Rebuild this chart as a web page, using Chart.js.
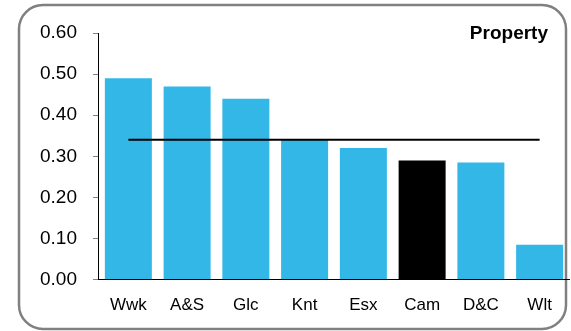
<!DOCTYPE html>
<html>
<head>
<meta charset="utf-8">
<script src="https://cdn.jsdelivr.net/npm/chart.js@4"></script>
<style>
  html, body { margin: 0; padding: 0; background: #fff; }
  #wrap { position: relative; width: 571px; height: 331px; }
</style>
</head>
<body>
<div id="wrap"><canvas id="chart" width="571" height="331"></canvas></div>
<script>
// ── Data ─────────────────────────────────────────────────────────────────────
const categories = ['Wwk', 'A&S', 'Glc', 'Knt', 'Esx', 'Cam', 'D&C', 'Wlt'];
const values     = [0.49, 0.47, 0.44, 0.34, 0.32, 0.29, 0.285, 0.085];
const average    = [0.34, 0.34, 0.34, 0.34, 0.34, 0.34, 0.34, 0.34];
const highlight  = 'Cam';
const titleText  = 'Property';

const BLUE = '#33B7E7';
const FONT = "'Liberation Sans', Arial, sans-serif";

// rounded frame + title drawn straight on the canvas
const framePlugin = {
    id: 'frame',
    beforeDraw(chart) {
        const ctx = chart.ctx;
        ctx.save();
        ctx.strokeStyle = '#808080';
        ctx.lineWidth = 2.5;
        ctx.beginPath();
        ctx.roundRect(19, 5, 547, 324, 24);
        ctx.stroke();
        ctx.restore();
    },
    afterDraw(chart) {
        const ctx = chart.ctx;
        ctx.save();
        ctx.font = `bold 19px ${FONT}`;
        ctx.fillStyle = '#000';
        ctx.textAlign = 'right';
        ctx.textBaseline = 'middle';
        ctx.fillText(titleText, 548, 34);
        ctx.restore();
    }
};

new Chart(document.getElementById('chart'), {
    data: {
        labels: categories,
        datasets: [
            {
                type: 'line',
                data: average,
                borderColor: '#000',
                borderWidth: 2,
                pointRadius: 0,
                order: 0
            },
            {
                type: 'bar',
                data: values,
                backgroundColor: categories.map(c => c === highlight ? '#000000' : BLUE),
                categoryPercentage: 0.8,
                barPercentage: 1.0,
                order: 1
            }
        ]
    },
    options: {
        responsive: false,
        animation: false,
        layout: { padding: { left: 24, right: 2, top: 33, bottom: -1 } },
        plugins: { legend: { display: false }, tooltip: { enabled: false } },
        scales: {
            x: {
                grid: { display: false, drawTicks: false },
                border: { display: true, color: '#000', width: 1 },
                ticks: { color: '#000', font: { family: FONT, size: 17 }, padding: 16 }
            },
            y: {
                min: 0,
                max: 0.6,
                grid: { drawOnChartArea: false, tickLength: 6, color: '#808080' },
                border: { color: '#000', width: 1 },
                ticks: {
                    stepSize: 0.1,
                    color: '#000',
                    padding: 16,
                    font: { family: FONT, size: 19 },
                    callback: v => v.toFixed(2)
                }
            }
        }
    },
    plugins: [framePlugin]
});
</script>
</body>
</html>
